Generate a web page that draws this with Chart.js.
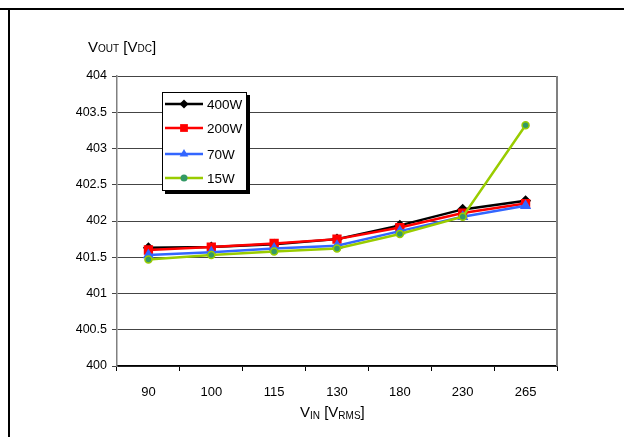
<!DOCTYPE html>
<html>
<head>
<meta charset="utf-8">
<script src="https://cdn.jsdelivr.net/npm/chart.js@4.4.1/dist/chart.umd.min.js"></script>
<style>
    html, body { margin: 0; padding: 0; background: #fff; }
    #wrap { position: relative; width: 624px; height: 437px; overflow: hidden; font-family: "Liberation Sans", Arial, sans-serif; }
    #frame { position: absolute; left: 8px; top: 8px; width: 640px; height: 460px; border-top: 2px solid #000; border-left: 2px solid #000; }
    #topline { position: absolute; left: 0; top: 8px; width: 10px; height: 2px; background: #000; }
    .axis-title { position: absolute; color: #000; white-space: nowrap; font-size: 15px; }
    .axis-title .sm { font-size: 10px; }
    #xtitle .sm { vertical-align: -2px; }
    #ytitle { left: 88px; top: 38px; }
    #xtitle { left: 300px; top: 403px; }
    canvas { position: absolute; left: 0; top: 0; }
</style>
</head>
<body>
<div id="wrap">
    <canvas id="chart" width="624" height="437"></canvas>
    <div id="frame"></div>
    <div id="topline"></div>
    <div class="axis-title" id="ytitle">V<span class="sm">OUT</span> [V<span class="sm">DC</span>]</div>
    <div class="axis-title" id="xtitle">V<span class="sm">IN</span> [V<span class="sm">RMS</span>]</div>
</div>
<script>
// Input voltage categories (V RMS)
const vinLabels = ['90', '100', '115', '130', '180', '230', '265'];

// Output voltage (V DC) per load
const out400W = [401.63, 401.64, 401.68, 401.75, 401.94, 402.16, 402.28];
const out200W = [401.60, 401.64, 401.69, 401.75, 401.91, 402.11, 402.24];
const out70W  = [401.53, 401.57, 401.62, 401.66, 401.86, 402.06, 402.21];
const out15W  = [401.47, 401.53, 401.58, 401.62, 401.82, 402.06, 403.32];

const yMin = 400;
const yMax = 404;
const yStep = 0.5;

const FONT = '"Liberation Sans", Arial, sans-serif';

// Legend drawn inside the plot, Excel style with drop shadow
const boxLegend = {
    id: 'boxLegend',
    afterDraw(chart) {
        const ctx = chart.ctx;
        const x = 162, y = 92, w = 85, h = 99;
        ctx.save();
        ctx.fillStyle = '#000';
        ctx.fillRect(x + 3, y + 3, w, h);
        ctx.fillStyle = '#fff';
        ctx.fillRect(x, y, w, h);
        ctx.strokeStyle = '#000';
        ctx.lineWidth = 1;
        ctx.strokeRect(x + 0.5, y + 0.5, w - 1, h - 1);

        const rows = [104, 128, 154, 178];
        ctx.font = '13.5px ' + FONT;
        ctx.textBaseline = 'middle';
        chart.data.datasets.forEach((ds, i) => {
            const ry = rows[i];
            ctx.strokeStyle = ds.borderColor;
            ctx.lineWidth = ds.borderWidth;
            ctx.beginPath();
            ctx.moveTo(165, ry);
            ctx.lineTo(203, ry);
            ctx.stroke();
            ctx.fillStyle = ds.pointBackgroundColor;
            ctx.strokeStyle = ds.pointBorderColor;
            ctx.lineWidth = ds.pointBorderWidth;
            Chart.helpers.drawPoint(ctx, {
                pointStyle: ds.pointStyle,
                radius: ds.pointRadius,
                rotation: 0
            }, 184, ry);
            ctx.fillStyle = '#000';
            ctx.fillText(ds.label, 207, ry + 1);
        });
        ctx.restore();
    },
    beforeDatasetsDraw(chart) {
        const a = chart.chartArea;
        const ctx = chart.ctx;
        ctx.save();
        ctx.strokeStyle = '#808080';
        ctx.lineWidth = 2;
        ctx.beginPath();
        ctx.moveTo(a.right, a.top);
        ctx.lineTo(a.right, a.bottom);
        ctx.stroke();
        ctx.restore();
    }
};

function series(label, data, color, style, radius, fill, border, order) {
    return {
        label,
        data,
        borderColor: color,
        backgroundColor: color,
        borderWidth: 2.5,
        pointStyle: style,
        pointRadius: radius,
        pointHoverRadius: radius,
        pointBackgroundColor: fill,
        pointBorderColor: border,
        pointBorderWidth: 1.5,
        tension: 0,
        order
    };
}

new Chart(document.getElementById('chart'), {
    type: 'line',
    data: {
        labels: vinLabels,
        datasets: [
            series('400W', out400W, '#000000', 'rectRot', 4.5, '#000000', '#000000', 3),
            series('200W', out200W, '#ff0000', 'rect', 5.5, '#ff0000', '#ff0000', 2),
            series('70W', out70W, '#3366ff', 'triangle', 5, '#3366ff', '#3366ff', 1),
            series('15W', out15W, '#99cc00', 'circle', 3.5, '#339966', '#99cc00', 0)
        ]
    },
    options: {
        responsive: false,
        animation: false,
        events: [],
        layout: { padding: { left: 60, top: 76, right: 67, bottom: 0 } },
        plugins: {
            legend: { display: false },
            tooltip: { enabled: false },
            title: { display: false }
        },
        scales: {
            x: {
                type: 'category',
                offset: true,
                afterFit: (s) => { s.height = 71; },
                grid: {
                    offset: true,
                    drawOnChartArea: false,
                    drawTicks: true,
                    tickLength: 5,
                    color: '#000'
                },
                border: { color: '#000', width: 1.5 },
                ticks: {
                    color: '#000',
                    padding: 14,
                    font: { family: FONT, size: 13 }
                }
            },
            y: {
                min: yMin,
                max: yMax,
                afterFit: (s) => { s.width = 57; },
                grid: {
                    color: '#444',
                    lineWidth: 1,
                    tickLength: 5
                },
                border: { color: '#808080', width: 1.5 },
                ticks: {
                    stepSize: yStep,
                    color: '#000',
                    padding: 5,
                    font: { family: FONT, size: 12.5 },
                    callback: (v) => String(v)
                }
            }
        }
    },
    plugins: [boxLegend]
});
</script>
</body>
</html>
